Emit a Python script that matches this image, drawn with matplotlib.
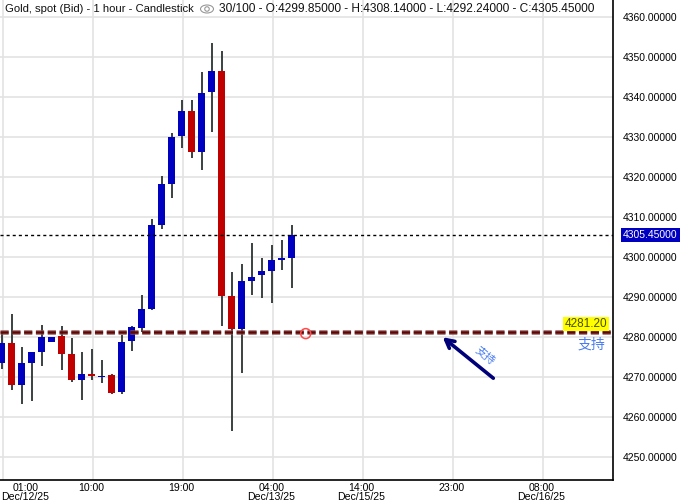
import matplotlib
matplotlib.use("Agg")
import matplotlib.pyplot as plt
from matplotlib.patches import Ellipse

plt.rcParams['font.family'] = ['Liberation Sans', 'Noto Sans CJK SC', 'DejaVu Sans']
plt.rcParams['lines.scale_dashes'] = False

# 1 hour candles, Gold spot (Bid)
opens = [4273.6, 4278.6, 4268.1, 4273.6, 4276.3, 4278.9, 4280.3, 4275.8, 4269.2, 4270.8,
         4270.1, 4270.6, 4266.3, 4279.1, 4282.3, 4287.1, 4308.1, 4318.4, 4330.2, 4336.6,
         4326.2, 4341.2, 4346.6, 4290.4, 4282.1, 4294.1, 4295.6, 4296.6, 4299.3, 4299.85]
highs = [4281.0, 4285.9, 4277.6, 4276.3, 4283.1, 4280.1, 4282.8, 4279.9, 4276.2, 4277.0,
         4274.3, 4270.9, 4280.6, 4282.8, 4290.6, 4309.6, 4320.3, 4331.0, 4339.3, 4339.3,
         4346.3, 4353.6, 4351.6, 4296.2, 4298.3, 4303.6, 4299.9, 4303.1, 4304.3, 4308.14]
lows = [4272.1, 4266.9, 4263.2, 4264.1, 4272.7, 4278.9, 4271.8, 4268.7, 4264.3, 4269.2,
        4268.6, 4265.8, 4265.8, 4276.6, 4281.3, 4286.8, 4307.1, 4314.9, 4327.2, 4324.9,
        4321.7, 4331.2, 4282.9, 4256.6, 4271.1, 4290.5, 4289.9, 4288.6, 4296.8, 4292.24]
closes = [4278.6, 4268.1, 4273.6, 4276.3, 4280.1, 4280.1, 4275.8, 4269.2, 4270.8, 4270.3,
          4270.3, 4266.1, 4278.8, 4282.6, 4287.1, 4308.1, 4318.3, 4330.1, 4336.6, 4326.2,
          4341.1, 4346.6, 4290.4, 4282.1, 4294.1, 4295.1, 4296.6, 4299.3, 4299.85, 4305.45]

tick_pos = [0, 9, 18, 27, 36, 45, 54]
tick_labels = ["01:00\nDec/12/25", "10:00", "19:00", "04:00\nDec/13/25",
               "14:00\nDec/15/25", "23:00", "08:00\nDec/16/25"]
price_ticks = [4250, 4260, 4270, 4280, 4290, 4300, 4310, 4320, 4330, 4340, 4350, 4360]

support = 4281.20
last_price = 4305.45

title_left = "Gold, spot (Bid) - 1 hour - Candlestick"
title_right = "30/100 - O:4299.85000 - H:4308.14000 - L:4292.24000 - C:4305.45000"

up_col = "#0000c0"
down_col = "#c00000"
wick_col = "#2b3333"

fig = plt.figure(figsize=(6.83, 5.04), dpi=100)
ax = fig.add_axes([0, 24 / 504, 613 / 683, 480 / 504])

ax.set_xlim(-0.15, 61.15)
ax.set_ylim(4244.3, 4364.3)

# grid
for p in price_ticks:
    ax.axhline(p, color="#e3e3e3", lw=1.2, zorder=0)
for t in tick_pos:
    ax.axvline(t + 0.1, color="#e3e3e3", lw=1.2, zorder=0)

# candles
w = 0.7
for i in range(len(opens)):
    o, h, l, c = opens[i], highs[i], lows[i], closes[i]
    col = up_col if c >= o else down_col
    ax.vlines(i, l, h, color=wick_col, lw=1.3, zorder=2)
    lo, hi = min(o, c), max(o, c)
    if hi - lo < 0.3:
        hi = lo + 0.3
    ax.bar(i, hi - lo, bottom=lo, width=w, color=col, edgecolor="none", zorder=3)

# last price line
ax.axhline(last_price, color="black", lw=1.0, ls=(0, (2.2, 2.2)), zorder=4)

# support line (halo + core, same dash pattern)
ax.axhline(support, color="#8a5050", lw=3.6, ls=(0, (5.9, 2.6)), alpha=0.7, zorder=5)
ax.axhline(support, color="#5e0606", lw=1.8, ls=(0, (5.9, 2.6)), zorder=6)
ax.text(60.6, support + 0.6, "4281.20", ha="right", va="bottom", fontsize=8.5,
        color="#4d4d00", bbox=dict(boxstyle="square,pad=0.12", fc="#ffff00", ec="none"), zorder=7)
ax.text(60.4, support - 1.4, "支持", ha="right", va="top", fontsize=10,
        color="#4a7cf0", family=["Noto Sans CJK SC", "DejaVu Sans"], zorder=7)

# small circle marker on the support
ax.add_patch(Ellipse((30.42, support - 0.3), 1.0, 2.5, fill=False, ec="#ff4b4b", lw=1.1, zorder=7))

# arrow
ax.annotate("", xy=(44.12, 4280.0), xytext=(49.18, 4269.75),
            arrowprops=dict(arrowstyle="->,head_length=0.6,head_width=0.32", color="#00007a",
                            lw=2.6, shrinkA=0, shrinkB=0), zorder=7)
ax.text(48.35, 4275.3, "支持", rotation=-39, ha="center", va="center", fontsize=8,
        color="#4a7cf0", family=["Noto Sans CJK SC", "DejaVu Sans"], zorder=7)

# spines
for s in ["top", "left"]:
    ax.spines[s].set_visible(False)
ax.spines["right"].set_linewidth(1.2)
ax.spines["bottom"].set_linewidth(1.2)

ax.yaxis.tick_right()
ax.set_yticks(price_ticks)
ax.set_yticklabels([f"{p:.5f}" for p in price_ticks], fontsize=7.5)
ax.tick_params(axis="y", length=0, pad=7)

ax.set_xticks(tick_pos)
ax.set_xticklabels(tick_labels, fontsize=7.6, linespacing=0.95)
ax.tick_params(axis="x", length=0, pad=2)
lbls = ax.get_xticklabels()
lbls[0].set_horizontalalignment("left")
lbls[0].set_multialignment("center")

# current price tag
ax.text(1.016, (last_price - 4244.3) / 120.0, "4305.45000", transform=ax.transAxes,
        ha="left", va="center", fontsize=7.5, color="white", clip_on=False,
        bbox=dict(boxstyle="square,pad=0.2", fc="#0000c0", ec="none"), zorder=8)

# header
fig.text(5 / 683, 1 - 9 / 504, title_left, ha="left", va="center", fontsize=8.1, color="#111111")
fig.text(219 / 683, 1 - 9 / 504, title_right, ha="left", va="center", fontsize=8.55, color="#111111")
fig.add_artist(Ellipse((207 / 683, 1 - 9 / 504), 13 / 683, 8 / 504, transform=fig.transFigure,
                       fill=False, ec="#999999", lw=0.8))
fig.add_artist(Ellipse((207 / 683, 1 - 9 / 504), 4.5 / 683, 4.5 / 504, transform=fig.transFigure,
                       fill=False, ec="#999999", lw=0.8))

fig.savefig("out.png", dpi=100, facecolor="white")
